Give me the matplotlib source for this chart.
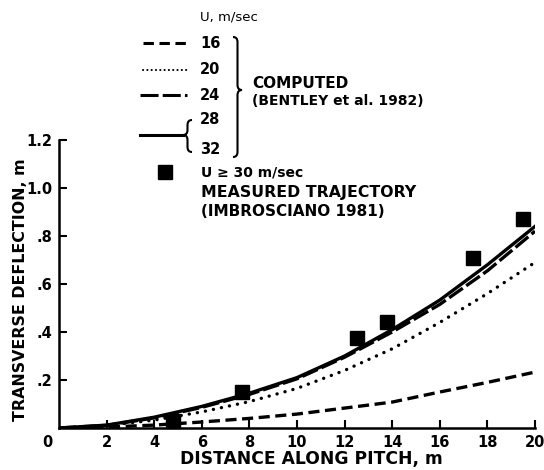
import matplotlib
matplotlib.use("Agg")
from matplotlib import pyplot as plt
from matplotlib.path import Path
from matplotlib.patches import PathPatch
from matplotlib.lines import Line2D

plt.rcParams['font.family'] = ['DejaVu Sans']
plt.rcParams['lines.scale_dashes'] = False

# distance along pitch (m) and computed transverse deflection (m)
dist = [0, 2, 4, 6, 8, 10, 12, 14, 16, 18, 20]
defl_16 = [0, 0.004, 0.012, 0.025, 0.04, 0.058, 0.083, 0.108, 0.15, 0.19, 0.233]
defl_20 = [0, 0.01, 0.033, 0.067, 0.11, 0.165, 0.24, 0.33, 0.44, 0.56, 0.69]
defl_24 = [0, 0.011, 0.042, 0.086, 0.14, 0.205, 0.295, 0.40, 0.515, 0.655, 0.82]
defl_28_32 = [0, 0.012, 0.045, 0.09, 0.145, 0.21, 0.30, 0.41, 0.533, 0.68, 0.84]

# measured trajectory (Imbrosciano 1981)
meas_x = [4.8, 7.7, 12.5, 13.8, 17.4, 19.5]
meas_y = [0.03, 0.15, 0.375, 0.44, 0.71, 0.87]

x_ticks = [2, 4, 6, 8, 10, 12, 14, 16, 18, 20]
y_ticks = [0.2, 0.4, 0.6, 0.8, 1.0, 1.2]
y_tick_labels = ['.2', '.4', '.6', '.8', '1.0', '1.2']

W, H = 544, 470
fig = plt.figure(figsize=(W / 100, H / 100), dpi=100)
ax = fig.add_axes([59 / W, 1 - 428 / H, (535 - 59) / W, (428 - 140) / H])

lw = 2.4
ax.plot(dist, defl_16, color='black', lw=lw, dashes=(8, 4))
ax.plot(dist, defl_20, color='black', lw=2.4, dashes=(0.1, 5.8), dash_capstyle='round')
ax.plot(dist, defl_24, color='black', lw=lw, dashes=(12, 3))
ax.plot(dist, defl_28_32, color='black', lw=lw)
ax.plot(meas_x, meas_y, ls='none', marker='s', ms=10.5, color='black', clip_on=False)

ax.set_xlim(0, 20)
ax.set_ylim(0, 1.2)
ax.set_xticks(x_ticks)
ax.set_xticklabels([str(v) for v in x_ticks])
ax.set_yticks(y_ticks)
ax.set_yticklabels(y_tick_labels)
for s in ['top', 'right']:
    ax.spines[s].set_visible(False)
for s in ['left', 'bottom']:
    ax.spines[s].set_linewidth(1.8)
ax.tick_params(direction='in', length=6, width=1.5, labelsize=10.5, pad=5)
for t in ax.get_xticklabels() + ax.get_yticklabels():
    t.set_fontweight('bold')
ax.text(-0.5, -0.03, '0', transform=ax.transData, ha='center', va='top',
        fontsize=10.5, fontweight='bold')

ax.set_xlabel('DISTANCE ALONG PITCH, m', fontsize=12.3, fontweight='bold')
ax.set_ylabel('TRANSVERSE DEFLECTION, m', fontsize=11.4, fontweight='bold')
ax.xaxis.set_label_coords(0.53, -0.078)
ax.yaxis.set_label_coords(-0.065, 0.479)

# legend drawn in pixel coordinates
ov = fig.add_axes([0, 0, 1, 1], facecolor='none')
ov.set_xlim(0, W)
ov.set_ylim(H, 0)
ov.axis('off')


def brace(x, y0, y1, ym, w, s):
    # vertical curly brace; s=+1 tip to the right, s=-1 tip to the left
    h = w / 2
    r = 5
    verts = [(x, y0), (x + s * h, y0), (x + s * h, y0 + r),
             (x + s * h, ym - r), (x + s * h, ym), (x + s * w, ym),
             (x + s * h, ym), (x + s * h, ym + r),
             (x + s * h, y1 - r), (x + s * h, y1), (x, y1)]
    codes = [Path.MOVETO, Path.CURVE3, Path.CURVE3,
             Path.LINETO, Path.CURVE3, Path.CURVE3,
             Path.CURVE3, Path.CURVE3,
             Path.LINETO, Path.CURVE3, Path.CURVE3]
    ov.add_patch(PathPatch(Path(verts, codes), fill=False, lw=1.5, color='black'))


ov.text(200, 17, 'U, m/sec', fontsize=9.5, va='center', ha='left')
ov.add_line(Line2D([143, 187], [43, 43], color='black', lw=2.2, dashes=(7.5, 4)))
ov.add_line(Line2D([143, 187], [70, 70], color='black', lw=1.5, dashes=(0.1, 3), dash_capstyle='round'))
ov.add_line(Line2D([140, 187], [95, 95], color='black', lw=2.2, dashes=(13, 3)))
ov.add_line(Line2D([140, 183], [135, 135], color='black', lw=2.2))
for lab, yy in [('16', 43), ('20', 70), ('24', 95), ('28', 120), ('32', 150)]:
    ov.text(200, yy, lab, fontsize=10.5, fontweight='bold', va='center', ha='left')
brace(192, 120, 152, 135, 9, -1)
brace(233, 37, 157, 90, 9, 1)
ov.text(252, 84, 'COMPUTED', fontsize=11, fontweight='bold', va='center', ha='left')
ov.text(252, 101, '(BENTLEY et al. 1982)', fontsize=10, fontweight='bold', va='center', ha='left')
ov.plot([165], [172], marker='s', ms=10.5, color='black')
ov.text(201, 172, 'U \u2265 30 m/sec', fontsize=10, fontweight='bold', va='center', ha='left')
ov.text(201, 192, 'MEASURED TRAJECTORY', fontsize=11.3, fontweight='bold', va='center', ha='left')
ov.text(201, 211, '(IMBROSCIANO 1981)', fontsize=11, fontweight='bold', va='center', ha='left')

fig.savefig('out.png', dpi=100)
